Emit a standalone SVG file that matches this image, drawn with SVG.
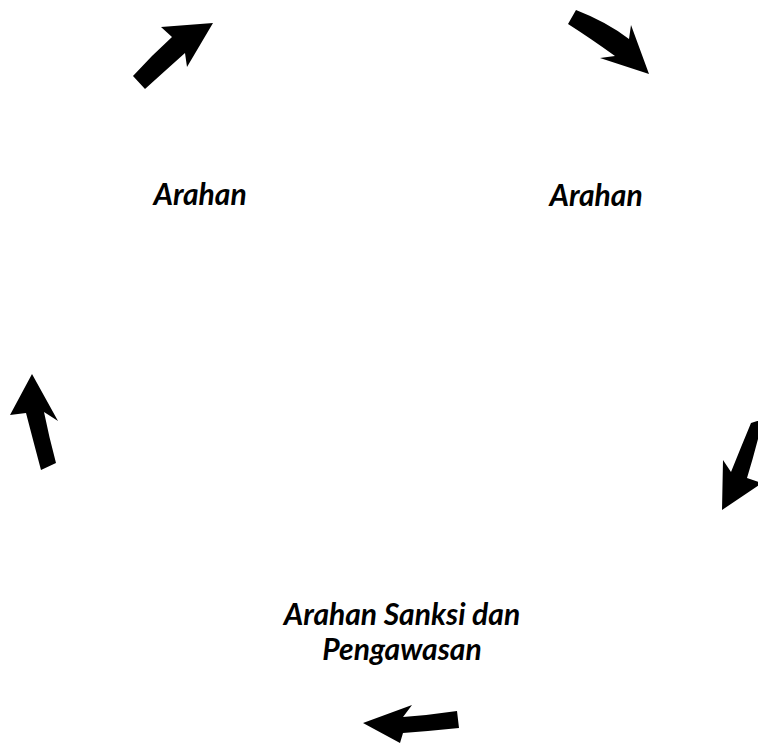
<svg xmlns="http://www.w3.org/2000/svg" width="758" height="749" viewBox="0 0 758 749">
<style>
.lbl{font-family:Lato,"Open Sans","Liberation Sans",sans-serif;font-weight:bold;font-style:italic;font-size:30px;fill:#000;text-anchor:middle}
.arr{fill:#000;stroke:none}
</style>
<rect width="758" height="749" fill="#fff"/>
<g id="connectors">
<path class="arr" d="M133,76 Q152,55 172,37 L161,27 L213,23 L187,67 L185,53 Q166,70 145,89 Z"/>
<path class="arr" d="M576,10 Q607,22 629,39 L631,25 L649,74 L600,58 L615,56 Q590,38 568,24 Z"/>
<path class="arr" d="M32,374 L58,421 L44,412 Q49,437 56,463 L41,470 Q33,440 26,413 L10,415 Z"/>
<path class="arr" d="M751,423 L763,419 Q755,452 747,478 L762,483 L722,510 L723,460 L731,472 Q741,447 751,423 Z"/>
<path class="arr" d="M363,723 L412,705 L403,717 Q430,715 457,711 L459,728 Q430,731 403,733 L400,743 Z"/>
</g>
<g id="node1"><text class="lbl" x="200" y="205">Arahan</text></g>
<g id="node2"><text class="lbl" x="596" y="206">Arahan</text></g>
<g id="node3"><text class="lbl" x="402" y="625">Arahan Sanksi dan</text><text class="lbl" x="402" y="660">Pengawasan</text></g>
</svg>
